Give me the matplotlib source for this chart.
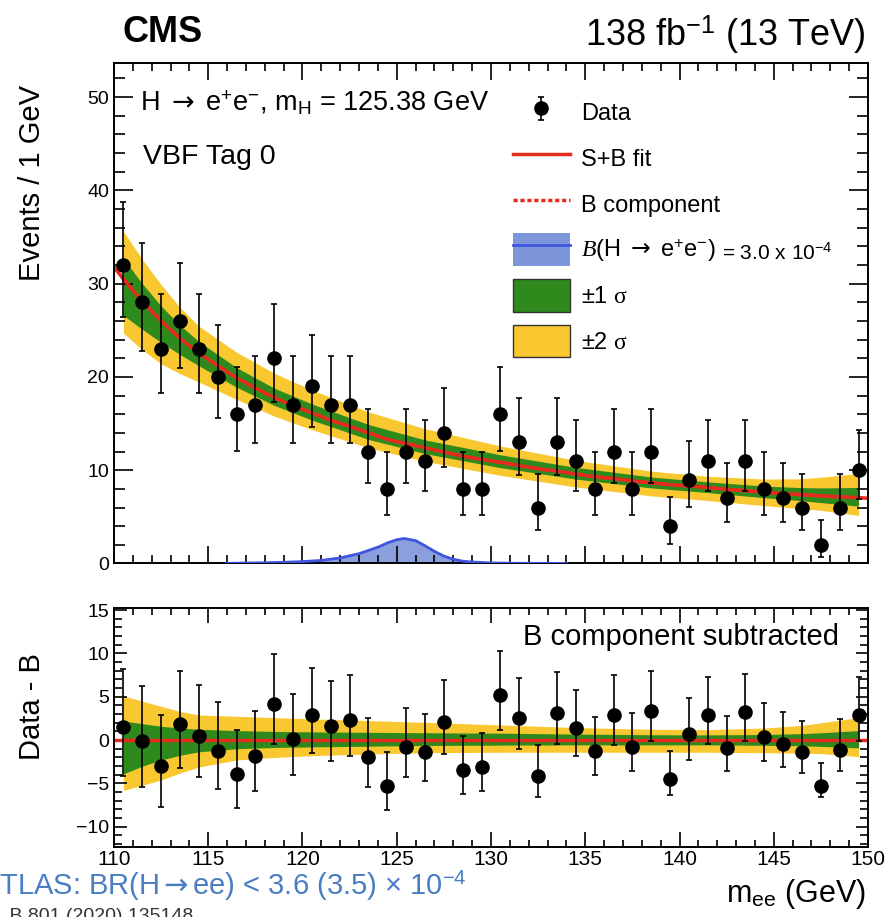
import numpy as np
import matplotlib.pyplot as plt
from matplotlib.lines import Line2D
from matplotlib.patches import Patch
from matplotlib.ticker import MultipleLocator

plt.rcParams['font.family'] = 'Liberation Sans'
plt.rcParams['mathtext.fontset'] = 'custom'
plt.rcParams['mathtext.rm'] = 'Liberation Sans'
plt.rcParams['mathtext.it'] = 'Liberation Serif:italic'
plt.rcParams['mathtext.sf'] = 'Liberation Serif'
plt.rcParams['mathtext.bf'] = 'DejaVu Sans'   # used for the arrows only

ARROW = '$\\mathbf{\\rightarrow}$'

# m_ee bin centres (1 GeV bins) and observed events
mass = np.arange(110.5, 150.0, 1.0)
counts = np.array([32, 28, 23, 26, 23, 20, 16, 17, 22, 17,
                   19, 17, 17, 12, 8, 12, 11, 14, 8, 8,
                   16, 13, 6, 13, 11, 8, 12, 8, 12, 4,
                   9, 11, 7, 11, 8, 7, 6, 2, 6, 10])

# background component of the fit at the bin centres
bkg = np.array([30.5, 28.1, 26.0, 24.15, 22.55, 21.2, 19.9, 18.8, 17.8, 16.9,
                16.15, 15.35, 14.7, 14.0, 13.3, 12.85, 12.4, 11.95, 11.5, 11.15,
                10.85, 10.5, 10.15, 9.9, 9.6, 9.3, 9.1, 8.85, 8.65, 8.45,
                8.3, 8.15, 7.95, 7.8, 7.65, 7.5, 7.38, 7.25, 7.15, 7.05])
bkg_edges = (31.8, 7.0)  # fit value at 110 and 150 GeV

# uncertainty bands on the background fit (offsets in events)
band_mass = np.array([110.5, 111.5, 112.5, 113.5, 114.5, 116.5, 118.5, 120.5, 123.5,
                      126.5, 130.5, 134.5, 138.5, 141.5, 144.5, 146.5, 147.5, 149.5])
two_up = np.array([5.1, 4.5, 3.9, 3.3, 2.9, 2.75, 2.6, 2.45, 2.25,
                   2.05, 1.75, 1.45, 1.25, 1.2, 1.4, 1.7, 2.0, 2.6])
two_dn = np.array([-5.8, -5.2, -4.6, -3.8, -3.1, -2.3, -2.0, -1.8, -1.6,
                   -1.45, -1.4, -1.4, -1.4, -1.4, -1.45, -1.5, -1.55, -1.9])
one_up = np.array([2.2, 1.9, 1.6, 1.4, 1.25, 1.1, 1.0, 0.95, 0.9,
                   0.85, 0.8, 0.7, 0.62, 0.6, 0.65, 0.75, 0.85, 1.1])
one_dn = np.array([-3.9, -3.0, -2.3, -1.75, -1.35, -1.0, -0.85, -0.78, -0.7,
                   -0.62, -0.58, -0.55, -0.55, -0.55, -0.6, -0.65, -0.72, -0.9])

# expected signal for B(H->ee) = 3.0e-4
sig_mass = np.array([116, 118, 119, 120, 121, 122, 123, 124, 124.5, 125, 125.4,
                     126, 126.5, 127, 127.5, 128, 128.5, 129, 130, 131, 132, 134])
sig_val = np.array([0.02, 0.08, 0.13, 0.2, 0.33, 0.6, 1.05, 1.75, 2.2, 2.55, 2.68,
                    2.45, 1.9, 1.3, 0.8, 0.45, 0.25, 0.16, 0.06, 0.03, 0.02, 0.01])

# Poisson (Gehrels) intervals for the data points
err_up = 1.0 + np.sqrt(counts + 0.75)
err_dn = counts - counts * (1 - 1 / (9.0 * counts) - 1 / (3.0 * np.sqrt(counts))) ** 3

YELLOW = '#f9c72f'
GREEN = '#2f8a1e'
RED = '#e62b1e'
BLUE_FILL = '#7d95d9'
BLUE_LINE = '#3f55dd'

W, H = 889, 917
fig = plt.figure(figsize=(W / 100, H / 100), dpi=100)
ax1 = fig.add_axes([0.1282, 0.3855, 0.8482, 0.5453])
ax2 = fig.add_axes([0.1282, 0.0766, 0.8482, 0.2600])

idx = (band_mass - mass[0]).astype(int)
b_at = bkg[idx]
fit_x = np.concatenate([[110.0], mass, [150.0]])
fit_y = np.concatenate([[bkg_edges[0]], bkg, [bkg_edges[1]]])

# upper panel
ax1.fill_between(band_mass, b_at + two_dn, b_at + two_up, color=YELLOW, lw=0)
ax1.fill_between(band_mass, b_at + one_dn, b_at + one_up, color=GREEN, lw=0)
ax1.fill_between(sig_mass, 0, sig_val, color=BLUE_FILL, lw=0, alpha=0.9)
ax1.plot(sig_mass, sig_val, color=BLUE_LINE, lw=2, zorder=3)
ax1.plot(fit_x, fit_y, color=RED, lw=2.5, ls=(0, (2, 1.5)))
ax1.plot(fit_x, fit_y, color=RED, lw=2.5)
data = ax1.errorbar(mass, counts, yerr=[err_dn, err_up], fmt='o', color='black',
                    ms=9.5, elinewidth=1.2, capsize=2.5, capthick=1.2, zorder=4)

ax1.set_xlim(110, 150)
ax1.set_ylim(0, 53.6)
ax1.xaxis.set_major_locator(MultipleLocator(5))
ax1.xaxis.set_minor_locator(MultipleLocator(1))
ax1.yaxis.set_major_locator(MultipleLocator(10))
ax1.yaxis.set_minor_locator(MultipleLocator(2))
ax1.tick_params(which='both', direction='in', top=True, right=True,
                labelbottom=False, width=1.2, labelsize=14)
ax1.tick_params(axis='x', which='major', length=12)
ax1.tick_params(axis='x', which='minor', length=6)
ax1.tick_params(axis='y', which='major', length=14)
ax1.tick_params(axis='y', which='minor', length=8)

ax1.text(0.035, 0.921, 'H ' + ARROW + ' e$^{+}$e$^{-}$, m$_{\\rm H}$ = 125.38 GeV',
         transform=ax1.transAxes, fontsize=19.5, va='center')
ax1.text(0.038, 0.813, 'VBF Tag 0', transform=ax1.transAxes, fontsize=20.5, va='center')

handles = [data,
           Line2D([], [], color=RED, lw=2.5),
           Line2D([], [], color=RED, lw=2.5, ls=(0, (1.2, 0.8))),
           (Patch(facecolor=BLUE_FILL, edgecolor='none'), Line2D([], [], color=BLUE_LINE, lw=2)),
           Patch(facecolor=GREEN, edgecolor='#333333', lw=1),
           Patch(facecolor=YELLOW, edgecolor='#333333', lw=1)]
labels = ['Data', 'S+B fit', 'B component',
          '$\\mathit{B}$(H ' + ARROW + ' e$^{+}$e$^{-}$)',
          '±1 $\\mathsf{\\sigma}$', '±2 $\\mathsf{\\sigma}$']
leg = ax1.legend(handles, labels, loc='upper left', bbox_to_anchor=(0.529, 0.934),
                 frameon=False, fontsize=17, borderpad=0, borderaxespad=0,
                 handlelength=2.4, handleheight=1.75, labelspacing=0.55,
                 handletextpad=0.5)

# lower panel: background subtracted
ax2.fill_between(band_mass, two_dn, two_up, color=YELLOW, lw=0)
ax2.fill_between(band_mass, one_dn, one_up, color=GREEN, lw=0)
ax2.axhline(0, color=RED, lw=2.5)
ax2.errorbar(mass, counts - bkg, yerr=[err_dn, err_up], fmt='o', color='black',
             ms=9.5, elinewidth=1.2, capsize=2.5, capthick=1.2, zorder=4)

ax2.set_xlim(110, 150)
ax2.set_ylim(-12.3, 15.2)
ax2.xaxis.set_major_locator(MultipleLocator(5))
ax2.xaxis.set_minor_locator(MultipleLocator(1))
ax2.yaxis.set_major_locator(MultipleLocator(5))
ax2.yaxis.set_minor_locator(MultipleLocator(1))
ax2.tick_params(which='both', direction='in', top=True, right=True, width=1.2)
ax2.tick_params(axis='x', which='major', length=11, labelsize=15, pad=2)
ax2.tick_params(axis='x', which='minor', length=5)
ax2.tick_params(axis='y', which='major', length=9, labelsize=14)
ax2.tick_params(axis='y', which='minor', length=6)
ax2.text(0.961, 0.88, 'B component subtracted', transform=ax2.transAxes,
         fontsize=21, ha='right', va='center')

for ax in (ax1, ax2):
    for sp in ax.spines.values():
        sp.set_linewidth(1.4)

fig.text(32 / W, 1 - 85 / H, 'Events / 1 GeV', rotation=90, ha='center', va='top', fontsize=21)
fig.text(32 / W, 1 - 707 / H, 'Data - B', rotation=90, ha='center', va='center', fontsize=21)
fig.text(866 / W, 1 - 894 / H, 'm$_{\\rm ee}$ (GeV)', ha='right', va='center', fontsize=22)
fig.text(122 / W, 1 - 33 / H, 'CMS', fontweight='bold', fontsize=26, va='center')
fig.text(866 / W, 1 - 35 / H, '138 fb$^{-1}$ (13 TeV)', ha='right', va='center', fontsize=26)
fig.text(-0.022, 1 - 886 / H, 'ATLAS: BR(H' + ARROW + 'ee) < 3.6 (3.5) × 10$^{-4}$',
         color='#4a7ec4', fontsize=21, va='center')
fig.text(193 / W, 1 - 908 / H, 'Phys. Lett. B 801 (2020) 135148',
         color='#333333', fontsize=14, ha='right', va='top')

# value of the branching fraction, set smaller after the legend label
fig.canvas.draw()
bb = leg.get_texts()[3].get_window_extent()
fig.text((bb.x1 + 6) / W, (bb.y0 + bb.y1) / 2 / H - 0.002, '= 3.0 x 10$^{-4}$',
         fontsize=15, va='center')

fig.savefig('out.png', dpi=100)
